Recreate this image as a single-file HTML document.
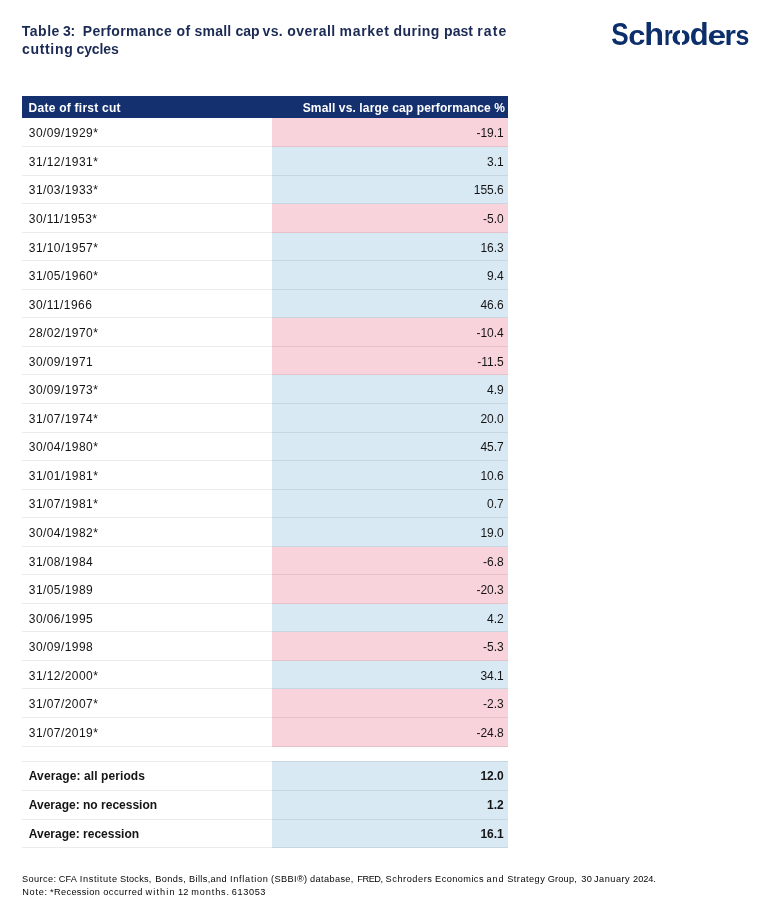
<!DOCTYPE html>
<html lang="en"><head><meta charset="utf-8"><title>Table 3</title>
<style>
html,body{margin:0;padding:0;background:#fff;}
body{width:770px;height:920px;position:relative;overflow:hidden;font-family:"Liberation Sans",sans-serif;color:#141414;will-change:transform;}
.tw{position:absolute;white-space:nowrap;font-size:14px;line-height:17.6px;font-weight:bold;color:#1b2a55;}
.logo span{position:absolute;left:0;top:0;font-size:28.5px;line-height:40px;font-weight:bold;color:#0c2f6b;transform-origin:0 0;white-space:nowrap;}
.head{position:absolute;left:22px;top:96px;width:485.7px;height:22px;background:#15306f;color:#fff;font-weight:bold;font-size:12px;line-height:22px;}
.head .a{position:absolute;left:6.6px;top:1.3px;letter-spacing:0.25px;}
.head .b{position:absolute;right:2.6px;top:1.3px;letter-spacing:0.13px;}
.row{position:absolute;left:22px;width:485.7px;font-size:12px;line-height:20px;}
.row .c{position:absolute;left:250px;right:0;top:0;bottom:0;}
.row .d{position:absolute;left:6.8px;height:20px;letter-spacing:0.43px;white-space:nowrap;}
.row .v{position:absolute;right:3.9px;height:20px;text-align:right;white-space:nowrap;}
.slit{position:absolute;left:680.2px;top:28px;width:1.6px;height:19px;background:#fff;}
.pos{background:#d9e9f4;}
.neg{background:#f9d3dc;}
.avg{font-weight:bold;}
.avg .d{letter-spacing:0.08px;}
.line{position:absolute;left:22px;width:485.7px;height:1px;background:rgba(0,0,0,0.08);}
.fw{position:absolute;white-space:nowrap;font-size:9.2px;line-height:13.2px;color:#050505;}
</style></head><body>
<span class="tw" style="left:21.70px;top:23px;letter-spacing:0.542px">Table</span> <span class="tw" style="left:63.00px;top:23px;letter-spacing:-0.400px">3:</span> <span class="tw" style="left:82.80px;top:23px;letter-spacing:0.331px">Performance</span> <span class="tw" style="left:176.50px;top:23px;letter-spacing:0.481px">of</span> <span class="tw" style="left:194.60px;top:23px;letter-spacing:0.172px">small</span> <span class="tw" style="left:235.50px;top:23px;letter-spacing:-0.013px">cap</span> <span class="tw" style="left:262.60px;top:23px;letter-spacing:0.316px">vs.</span> <span class="tw" style="left:287.20px;top:23px;letter-spacing:0.477px">overall</span> <span class="tw" style="left:339.60px;top:23px;letter-spacing:0.656px">market</span> <span class="tw" style="left:393.60px;top:23px;letter-spacing:0.411px">during</span> <span class="tw" style="left:444.10px;top:23px;letter-spacing:0.001px">past</span> <span class="tw" style="left:477.30px;top:23px;letter-spacing:1.071px">rate</span>
<span class="tw" style="left:22.00px;top:40.8px;letter-spacing:0.674px">cutting</span> <span class="tw" style="left:76.50px;top:40.8px;letter-spacing:-0.126px">cycles</span>
<div class="logo"><span style="transform:matrix(0.9176,0,0,1.0733,611.20,12.81)">S</span><span style="transform:matrix(1.0811,0,0,0.9984,628.18,15.00)">c</span><span style="transform:matrix(1.1376,0,0,1.1200,644.22,11.42)">h</span><span style="transform:matrix(0.7771,0,0,0.9951,663.94,15.04)">r</span><span style="transform:matrix(1.1240,0,0,0.9984,671.34,15.00)">o</span><span style="transform:matrix(1.0852,0,0,1.1210,689.78,11.41)">d</span><span style="transform:matrix(1.1709,0,0,0.9984,707.38,15.00)">e</span><span style="transform:matrix(1.0286,0,0,0.9951,724.47,15.04)">r</span><span style="transform:matrix(0.8734,0,0,0.9984,735.43,15.00)">s</span><i class="slit"></i></div>
<div class="head"><span class="a">Date of first cut</span><span class="b">Small vs. large cap performance %</span></div>
<div class="row" style="top:118px;height:29px"><div class="c neg"></div><div class="d" style="top:5.30px">30/09/1929*</div><div class="v" style="top:5.30px">-19.1</div></div>
<div class="row" style="top:147px;height:29px"><div class="c pos"></div><div class="d" style="top:4.85px">31/12/1931*</div><div class="v" style="top:4.85px">3.1</div></div>
<div class="row" style="top:176px;height:28px"><div class="c pos"></div><div class="d" style="top:4.40px">31/03/1933*</div><div class="v" style="top:4.40px">155.6</div></div>
<div class="row" style="top:204px;height:29px"><div class="c neg"></div><div class="d" style="top:4.95px">30/11/1953*</div><div class="v" style="top:4.95px">-5.0</div></div>
<div class="row" style="top:233px;height:28px"><div class="c pos"></div><div class="d" style="top:4.50px">31/10/1957*</div><div class="v" style="top:4.50px">16.3</div></div>
<div class="row" style="top:261px;height:29px"><div class="c pos"></div><div class="d" style="top:5.05px">31/05/1960*</div><div class="v" style="top:5.05px">9.4</div></div>
<div class="row" style="top:290px;height:28px"><div class="c pos"></div><div class="d" style="top:4.60px">30/11/1966</div><div class="v" style="top:4.60px">46.6</div></div>
<div class="row" style="top:318px;height:29px"><div class="c neg"></div><div class="d" style="top:5.15px">28/02/1970*</div><div class="v" style="top:5.15px">-10.4</div></div>
<div class="row" style="top:347px;height:28px"><div class="c neg"></div><div class="d" style="top:4.70px">30/09/1971</div><div class="v" style="top:4.70px">-11.5</div></div>
<div class="row" style="top:375px;height:29px"><div class="c pos"></div><div class="d" style="top:5.25px">30/09/1973*</div><div class="v" style="top:5.25px">4.9</div></div>
<div class="row" style="top:404px;height:29px"><div class="c pos"></div><div class="d" style="top:4.80px">31/07/1974*</div><div class="v" style="top:4.80px">20.0</div></div>
<div class="row" style="top:433px;height:28px"><div class="c pos"></div><div class="d" style="top:4.35px">30/04/1980*</div><div class="v" style="top:4.35px">45.7</div></div>
<div class="row" style="top:461px;height:29px"><div class="c pos"></div><div class="d" style="top:4.90px">31/01/1981*</div><div class="v" style="top:4.90px">10.6</div></div>
<div class="row" style="top:490px;height:28px"><div class="c pos"></div><div class="d" style="top:4.45px">31/07/1981*</div><div class="v" style="top:4.45px">0.7</div></div>
<div class="row" style="top:518px;height:29px"><div class="c pos"></div><div class="d" style="top:5.00px">30/04/1982*</div><div class="v" style="top:5.00px">19.0</div></div>
<div class="row" style="top:547px;height:28px"><div class="c neg"></div><div class="d" style="top:4.55px">31/08/1984</div><div class="v" style="top:4.55px">-6.8</div></div>
<div class="row" style="top:575px;height:29px"><div class="c neg"></div><div class="d" style="top:5.10px">31/05/1989</div><div class="v" style="top:5.10px">-20.3</div></div>
<div class="row" style="top:604px;height:28px"><div class="c pos"></div><div class="d" style="top:4.65px">30/06/1995</div><div class="v" style="top:4.65px">4.2</div></div>
<div class="row" style="top:632px;height:29px"><div class="c neg"></div><div class="d" style="top:5.20px">30/09/1998</div><div class="v" style="top:5.20px">-5.3</div></div>
<div class="row" style="top:661px;height:28px"><div class="c pos"></div><div class="d" style="top:4.75px">31/12/2000*</div><div class="v" style="top:4.75px">34.1</div></div>
<div class="row" style="top:689px;height:29px"><div class="c neg"></div><div class="d" style="top:5.30px">31/07/2007*</div><div class="v" style="top:5.30px">-2.3</div></div>
<div class="row" style="top:718px;height:29px"><div class="c neg"></div><div class="d" style="top:4.85px">31/07/2019*</div><div class="v" style="top:4.85px">-24.8</div></div>
<div class="line" style="top:146px"></div>
<div class="line" style="top:175px"></div>
<div class="line" style="top:203px"></div>
<div class="line" style="top:232px"></div>
<div class="line" style="top:260px"></div>
<div class="line" style="top:289px"></div>
<div class="line" style="top:317px"></div>
<div class="line" style="top:346px"></div>
<div class="line" style="top:374px"></div>
<div class="line" style="top:403px"></div>
<div class="line" style="top:432px"></div>
<div class="line" style="top:460px"></div>
<div class="line" style="top:489px"></div>
<div class="line" style="top:517px"></div>
<div class="line" style="top:546px"></div>
<div class="line" style="top:574px"></div>
<div class="line" style="top:603px"></div>
<div class="line" style="top:631px"></div>
<div class="line" style="top:660px"></div>
<div class="line" style="top:688px"></div>
<div class="line" style="top:717px"></div>
<div class="line" style="top:746px"></div>
<div class="row avg" style="top:761px;height:30px"><div class="c pos"></div><div class="d" style="top:5.30px;letter-spacing:0.1px">Average: all periods</div><div class="v" style="top:5.30px">12.0</div></div>
<div class="row avg" style="top:791px;height:29px"><div class="c pos"></div><div class="d" style="top:4.20px;letter-spacing:0.0px">Average: no recession</div><div class="v" style="top:4.20px">1.2</div></div>
<div class="row avg" style="top:820px;height:28px"><div class="c pos"></div><div class="d" style="top:3.80px;letter-spacing:0.0px">Average: recession</div><div class="v" style="top:3.80px">16.1</div></div>
<div class="line" style="top:761px"></div>
<div class="line" style="top:790px"></div>
<div class="line" style="top:819px"></div>
<div class="line" style="top:847px"></div>
<span class="fw" style="left:22.00px;top:873px;letter-spacing:0.388px">Source:</span> <span class="fw" style="left:58.70px;top:873px;letter-spacing:0.163px">CFA</span> <span class="fw" style="left:79.80px;top:873px;letter-spacing:0.627px">Institute</span> <span class="fw" style="left:119.90px;top:873px;letter-spacing:0.213px">Stocks,</span> <span class="fw" style="left:155.30px;top:873px;letter-spacing:0.378px">Bonds,</span> <span class="fw" style="left:189.00px;top:873px;letter-spacing:0.371px">Bills,and</span> <span class="fw" style="left:230.00px;top:873px;letter-spacing:0.714px">Inflation</span> <span class="fw" style="left:271.10px;top:873px;letter-spacing:0.362px">(SBBI®)</span> <span class="fw" style="left:310.00px;top:873px;letter-spacing:0.380px">database,</span> <span class="fw" style="left:357.20px;top:873px;letter-spacing:-0.400px">FRED,</span> <span class="fw" style="left:385.60px;top:873px;letter-spacing:0.553px">Schroders</span> <span class="fw" style="left:435.10px;top:873px;letter-spacing:0.433px">Economics</span> <span class="fw" style="left:486.60px;top:873px;letter-spacing:0.828px">and</span> <span class="fw" style="left:507.20px;top:873px;letter-spacing:0.483px">Strategy</span> <span class="fw" style="left:547.70px;top:873px;letter-spacing:0.201px">Group,</span> <span class="fw" style="left:581.20px;top:873px;letter-spacing:0.466px">30</span> <span class="fw" style="left:594.00px;top:873px;letter-spacing:0.502px">January</span> <span class="fw" style="left:633.10px;top:873px;letter-spacing:-0.050px">2024.</span>
<span class="fw" style="left:22.20px;top:886.2px;letter-spacing:0.733px">Note:</span> <span class="fw" style="left:50.00px;top:886.2px;letter-spacing:0.368px">*Recession</span> <span class="fw" style="left:103.20px;top:886.2px;letter-spacing:0.507px">occurred</span> <span class="fw" style="left:145.50px;top:886.2px;letter-spacing:1.100px">within</span> <span class="fw" style="left:178.10px;top:886.2px;letter-spacing:0.066px">12</span> <span class="fw" style="left:191.30px;top:886.2px;letter-spacing:0.852px">months.</span> <span class="fw" style="left:231.70px;top:886.2px;letter-spacing:0.626px">613053</span>
</body></html>
